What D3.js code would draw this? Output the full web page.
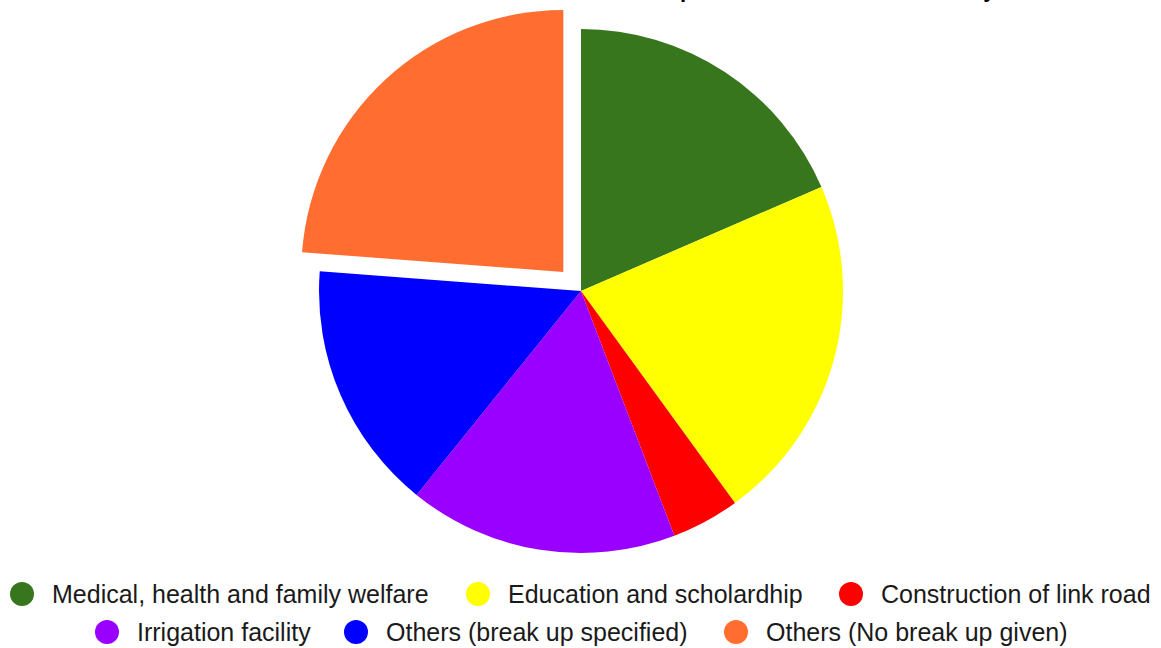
<!DOCTYPE html>
<html><head><meta charset="utf-8">
<script src="https://cdn.jsdelivr.net/npm/d3@7"></script>
<style>body{margin:0;background:#fff;}svg{display:block;font-family:"Liberation Sans",Arial,sans-serif;}</style>
</head><body>
<svg id="c" width="1161" height="648"></svg>
<script>
const categories = ["Medical, health and family welfare","Education and scholardhip","Construction of link road","Irrigation facility","Others (break up specified)","Others (No break up given)"];
const values = [18.5, 21.5, 4.2, 16.6, 15.4, 23.8];
const colors = ["#38761d","#ffff00","#ff0000","#9900ff","#0000ff","#ff6d31"];
const exploded = [false,false,false,false,false,true];
const titleText = "CSR Expenditure breakdown for the year";

const svg = d3.select("#c");
const cx = 581, cy = 291, r = 262, off = 26;

const pie = d3.pie().sort(null).value(d => d.v);
const data = pie(categories.map((c,i)=>({c, v: values[i], i})));
const arc = d3.arc().innerRadius(0).outerRadius(r);
const g = svg.append("g").attr("transform", `translate(${cx},${cy})`);
g.selectAll("path").data(data).join("path")
  .attr("d", arc)
  .attr("fill", d => colors[d.data.i])
  .attr("transform", d => {
    if (!exploded[d.data.i]) return null;
    const a = (d.startAngle + d.endAngle)/2;
    return `translate(${off*Math.sin(a)},${-off*Math.cos(a)})`;
  });

// title (clipped at top edge, as in the reference)
const t = svg.append("text").attr("y", -3).attr("font-size", 22).attr("font-weight", "bold").attr("fill", "#000").text(titleText);
const px = t.node().getStartPositionOfChar(titleText.indexOf("p")).x;
t.attr("x", 683 - px - 3);

// legend
const rows = [
  [{i:0, cx:22}, {i:1, cx:478}, {i:2, cx:851}],
  [{i:3, cx:107}, {i:4, cx:356}, {i:5, cx:736}]
];
const rowY = [594, 632];
rows.forEach((row, ri) => {
  row.forEach(it => {
    svg.append("circle").attr("cx", it.cx).attr("cy", rowY[ri]).attr("r", 12).attr("fill", colors[it.i]);
    svg.append("text").attr("x", it.cx + 30).attr("y", rowY[ri]).attr("dy", "0.36em")
      .attr("font-size", 25).attr("fill", "#1a1a1a").text(categories[it.i]);
  });
});
</script>
</body></html>
